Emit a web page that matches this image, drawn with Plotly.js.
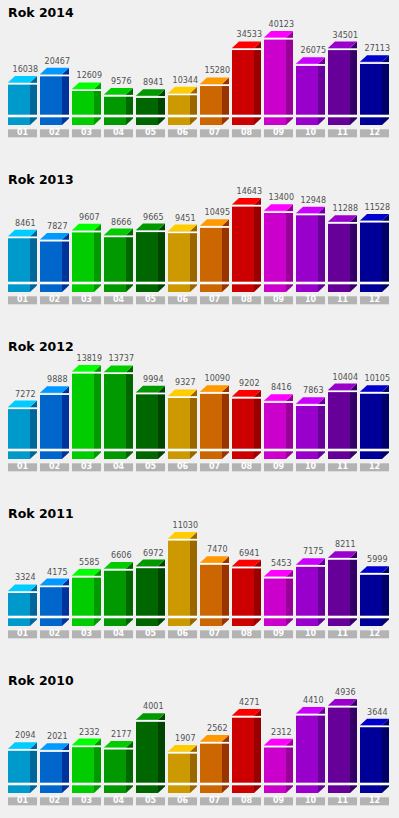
<!DOCTYPE html>
<html><head><meta charset="utf-8">
<script src="https://cdn.plot.ly/plotly-3.0.1.min.js"></script>
<style>html,body{margin:0;padding:0;background:#f0f0f0;overflow:hidden;}</style>
</head><body><div id="chart" style="width:399px;height:818px;"></div>
<script>
// ---- data ----
const months = ['01','02','03','04','05','06','07','08','09','10','11','12'];
const years = ['Rok 2014','Rok 2013','Rok 2012','Rok 2011','Rok 2010'];
const v2014 = [16038, 20467, 12609, 9576, 8941, 10344, 15280, 34533, 40123, 26075, 34501, 27113];
const v2013 = [8461, 7827, 9607, 8666, 9665, 9451, 10495, 14643, 13400, 12948, 11288, 11528];
const v2012 = [7272, 9888, 13819, 13737, 9994, 9327, 10090, 9202, 8416, 7863, 10404, 10105];
const v2011 = [3324, 4175, 5585, 6606, 6972, 11030, 7470, 6941, 5453, 7175, 8211, 5999];
const v2010 = [2094, 2021, 2332, 2177, 4001, 1907, 2562, 4271, 2312, 4410, 4936, 3644];
const series = [v2014, v2013, v2012, v2011, v2010];

const topColors   = ['#00ccff','#0099ff','#00ff00','#00cc00','#009900','#ffcc00','#ff9900','#ff0000','#ff00ff','#cc00ff','#9900cc','#0000cc'];
const frontColors = ['#0099cc','#0066cc','#00cc00','#009900','#006600','#cc9900','#cc6600','#cc0000','#cc00cc','#9900cc','#660099','#000099'];
const sideColors  = ['#006699','#003399','#009900','#006600','#004400','#996600','#993300','#990000','#990099','#660099','#330066','#000066'];

// ---- geometry (pixels) ----
const W = 399, H = 818;
const PITCH = 32, FIRST = 19;       // px per category, px of first front-face centre
const FRONT = 22, DX = 7, DY = 6.5; // front width, depth offsets
const PANEL = 167, B0 = 125, T0 = 12.5;
const ZERO_OFF = 12.5, MAXH = 75;

const traces = [];
const layout = {
  width: W, height: H, margin: {l:0, r:0, t:0, b:0},
  paper_bgcolor: '#f0f0f0', plot_bgcolor: 'rgba(0,0,0,0)',
  showlegend: false, barmode: 'overlay', annotations: []
};

series.forEach((vals, k) => {
  const B = B0 + PANEL * k;
  const u = Math.max(...vals) / MAXH;       // data units per px
  const xa = k === 0 ? 'x' : 'x' + (k + 1);
  const ya = k === 0 ? 'y' : 'y' + (k + 1);
  const xKey = k === 0 ? 'xaxis' : 'xaxis' + (k + 1);
  const yKey = k === 0 ? 'yaxis' : 'yaxis' + (k + 1);
  layout[xKey] = {domain: [0, 1], range: [-FIRST / PITCH, (W - FIRST) / PITCH], visible: false, fixedrange: true, anchor: ya};
  layout[yKey] = {domain: [1 - (B + 15) / H, 1 - (B - 115) / H], range: [-(ZERO_OFF + 15) * u, (115 - ZERO_OFF) * u], visible: false, fixedrange: true, anchor: xa};

  const idx = months.map((m, i) => i);
  const px = PITCH;
  const base = -ZERO_OFF * u;

  // label boxes
  traces.push({type: 'bar', x: idx.map(i => i + 3.5 / px), y: idx.map(() => 8 * u), base: -(ZERO_OFF + 12.3) * u,
    width: 29 / px, marker: {color: '#b3b3b3', line: {width: 0}}, xaxis: xa, yaxis: ya, hoverinfo: 'skip'});
  // front faces
  traces.push({type: 'bar', x: idx, y: vals.map(v => v - base), base: base, width: FRONT / px,
    marker: {color: frontColors, line: {width: 0}}, xaxis: xa, yaxis: ya, hoverinfo: 'skip'});
  // side & top faces
  vals.forEach((v, i) => {
    const xl = i - FRONT / 2 / px, xr = i + FRONT / 2 / px, d = DX / px, dy = DY * u;
    traces.push({type: 'scatter', mode: 'lines', fill: 'toself', fillcolor: sideColors[i], line: {width: 0, color: sideColors[i]},
      x: [xr, xr + d, xr + d, xr, xr], y: [v, v + dy, base + dy, base, v], xaxis: xa, yaxis: ya, hoverinfo: 'skip'});
    traces.push({type: 'scatter', mode: 'lines', fill: 'toself', fillcolor: topColors[i], line: {width: 0, color: topColors[i]},
      x: [xl, xl + d, xr + d, xr, xl], y: [v, v + dy, v + dy, v, v], xaxis: xa, yaxis: ya, hoverinfo: 'skip'});
  });
  // white highlight lines
  const lx = [], ly = [], bx = [], by = [];
  const byv = base + 9 * u;
  vals.forEach((v, i) => {
    const xl = i - FRONT / 2 / px, xe = i + FRONT / 2 / px + DX / px;
    lx.push(xl, xe, null); ly.push(v - 1.2 * u, v - 1.2 * u, null);
    bx.push(xl, xe, null); by.push(byv, byv, null);
  });
  traces.push({type: 'scatter', mode: 'lines', x: lx, y: ly, line: {color: '#ffffff', width: 1.8}, xaxis: xa, yaxis: ya, hoverinfo: 'skip', connectgaps: false});
  traces.push({type: 'scatter', mode: 'lines', x: bx, y: by, line: {color: '#ffffff', width: 2.6}, xaxis: xa, yaxis: ya, hoverinfo: 'skip', connectgaps: false});
  // value labels
  traces.push({type: 'scatter', mode: 'text', x: idx.map(i => i + 6.3 / px), y: vals.map(v => v + 12.5 * u), text: vals.map(String),
    textposition: 'middle center', textfont: {family: 'DejaVu Sans', size: 8, color: '#505050'}, cliponaxis: false, xaxis: xa, yaxis: ya, hoverinfo: 'skip'});
  // month labels
  traces.push({type: 'scatter', mode: 'text', x: idx.map(i => i + 3.5 / px), y: idx.map(() => -(ZERO_OFF + 8.3) * u), text: months,
    textposition: 'middle center', textfont: {family: 'DejaVu Sans', size: 8, color: '#ffffff', weight: 'bold'}, cliponaxis: false, xaxis: xa, yaxis: ya, hoverinfo: 'skip'});
  // title
  layout.annotations.push({text: years[k], xref: 'paper', yref: 'paper', x: 6 / W, y: 1 - (T0 + PANEL * k) / H,
    xanchor: 'left', yanchor: 'middle', showarrow: false, font: {family: 'DejaVu Sans', size: 12.5, color: '#000000', weight: 'bold'}});
});

Plotly.newPlot('chart', traces, layout, {staticPlot: true, displayModeBar: false});
</script></body></html>
